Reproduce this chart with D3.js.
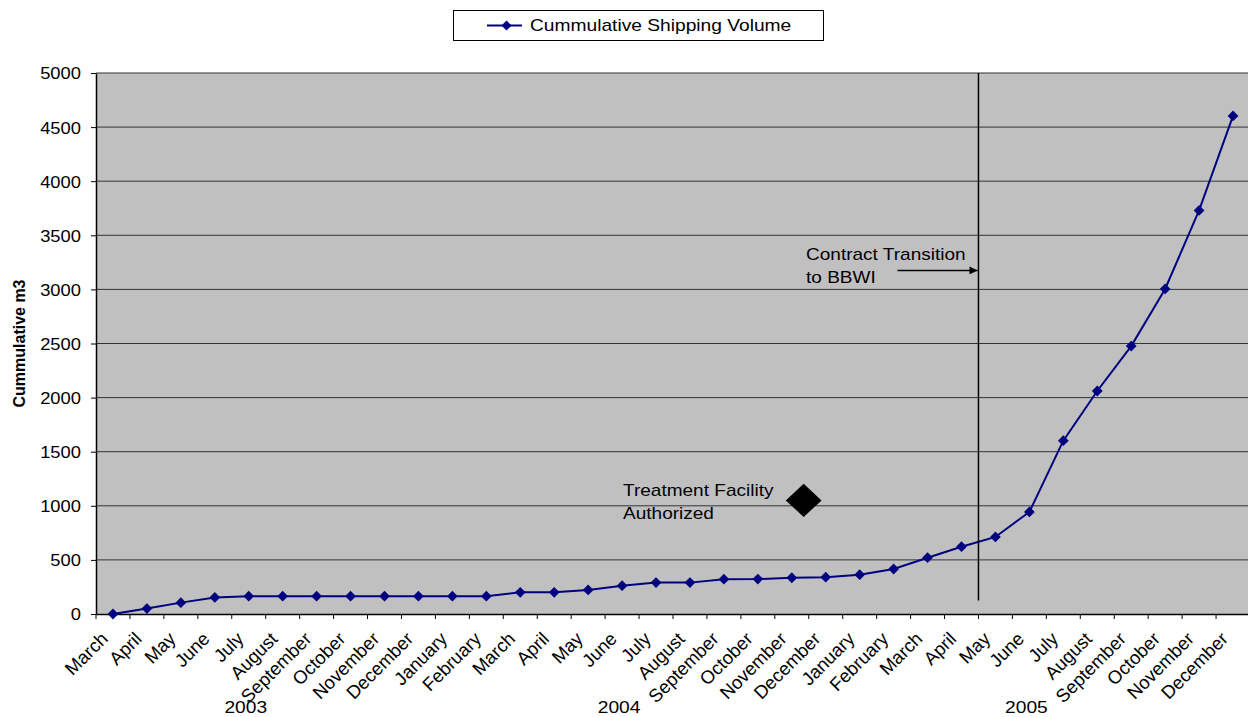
<!DOCTYPE html>
<html>
<head>
<meta charset="utf-8">
<script src="https://cdn.jsdelivr.net/npm/d3@7"></script>
<style>
    body { margin: 0; background: #fff; }
    svg { display: block; font-family: "Liberation Sans", Arial, sans-serif; }
</style>
</head>
<body>
<div id="chart"></div>
<script>
// months, Mar 2003 .. Dec 2005
const months = [
    'March', 'April', 'May', 'June', 'July', 'August', 'September', 'October', 'November', 'December',
    'January', 'February', 'March', 'April', 'May', 'June', 'July', 'August', 'September', 'October', 'November', 'December',
    'January', 'February', 'March', 'April', 'May', 'June', 'July', 'August', 'September', 'October', 'November', 'December',
];
const years = ['2003', '2004', '2005'];
const yearSpans = [[0, 9], [10, 21], [22, 33]];

const volume = [
    0, 50, 105, 153, 165, 165, 165, 165, 165, 165,
    165, 165, 200, 200, 222, 262, 290, 290, 322, 323, 335, 340,
    363, 416, 520, 622, 712, 943, 1602, 2061, 2476, 3004, 3730, 4603,
];

const yTicks = [0, 500, 1000, 1500, 2000, 2500, 3000, 3500, 4000, 4500, 5000];
const seriesName = 'Cummulative Shipping Volume';
const yTitle = 'Cummulative m3';

// annotations: category index (fractional) and value
const transition = { index: 25.5, value: 3175, lineFrom: 125, label: ['Contract Transition', 'to BBWI'] };
const treatment = { index: 20.35, value: 1050, label: ['Treatment Facility', 'Authorized'] };

(function () {
    const [W, H] = [1248, 717];
    const [left, right, top, bottom] = [96, 1250, 73, 614];

    // the original picture is a bit wider than its fonts
    function stretch(sel, x, y, sx) {
        sel.attr('x', 0)
           .attr('y', 0)
           .attr('transform', `translate(${x}, ${y}) scale(${sx}, 1)`);
    }

    let svg = d3.select('#chart')
                .append('svg')
                .attr('width', W)
                .attr('height', H);

    let idx = months.map((m, i) => i);
    let x = d3.scaleBand()
              .domain(idx)
              .range([left, right]);
    let bw = x.bandwidth();
    let cx = i => left + (i + 0.5) * bw;

    let y = d3.scaleLinear()
              .domain([0, 5000])
              .range([bottom, top]);

    svg.append('rect')
       .attr('x', left)
       .attr('y', top)
       .attr('width', right - left)
       .attr('height', bottom - top)
       .attr('fill', '#c0c0c0');

    svg.append('g')
       .selectAll('line')
       .data(yTicks.filter(d => d > 0))
       .enter()
       .append('line')
       .attr('x1', left)
       .attr('x2', right)
       .attr('y1', d => y(d))
       .attr('y2', d => y(d))
       .attr('stroke', '#333')
       .attr('stroke-width', 1);

    // y axis
    let yAxis = svg.append('g')
                   .attr('transform', `translate(${left}, 0)`)
                   .call(d3.axisLeft(y).tickValues(yTicks).tickFormat(d3.format('d')).tickSize(5).tickSizeOuter(0));
    yAxis.select('.domain').attr('stroke', '#000').attr('stroke-width', 1.5);
    yAxis.selectAll('.tick line').attr('stroke', '#000');
    yAxis.selectAll('text')
         .attr('font-size', '17px')
         .attr('fill', '#000')
         .attr('font-family', '"Liberation Sans", Arial, sans-serif')
         .attr('dy', '0.35em')
         .each(function () { stretch(d3.select(this), -15, 0, 1.08); });

    // x axis, ticks between categories
    let xAxis = svg.append('g')
                   .attr('transform', `translate(0, ${bottom})`)
                   .call(d3.axisBottom(x).tickSize(5).tickSizeOuter(0).tickFormat(i => months[i]));
    xAxis.select('.domain').attr('stroke', '#000').attr('stroke-width', 1.5);
    xAxis.selectAll('.tick line')
         .attr('stroke', '#000')
         .attr('x1', -bw / 2)
         .attr('x2', -bw / 2);
    xAxis.selectAll('text')
         .attr('font-size', '18.5px')
         .attr('fill', '#000')
         .attr('font-family', '"Liberation Sans", Arial, sans-serif')
         .attr('text-anchor', 'end')
         .attr('y', 0)
         .attr('dy', 0)
         .attr('transform', 'translate(-4, 26) rotate(-45)');

    svg.selectAll('.year')
       .data(years)
       .enter()
       .append('text')
       .attr('text-anchor', 'middle')
       .attr('font-size', '16px')
       .text(d => d)
       .each(function (d, i) {
           stretch(d3.select(this), (x(yearSpans[i][0]) + x(yearSpans[i][1])) / 2 - 3, 713, 1.2);
       });

    svg.append('text')
       .attr('transform', `translate(25, ${(top + bottom) / 2}) rotate(-90)`)
       .attr('text-anchor', 'middle')
       .attr('font-size', '16px')
       .attr('font-weight', 'bold')
       .text(yTitle);

    // series
    let line = d3.line()
                 .x((d, i) => cx(i))
                 .y(d => y(d));
    svg.append('path')
       .datum(volume)
       .attr('d', line)
       .attr('fill', 'none')
       .attr('stroke', '#000080')
       .attr('stroke-width', 2);

    let diamond = d3.symbol().type(d3.symbolDiamond2);
    svg.selectAll('.pt')
       .data(volume)
       .enter()
       .append('path')
       .attr('transform', (d, i) => `translate(${cx(i)}, ${y(d)})`)
       .attr('d', diamond.size(74)())
       .attr('fill', '#000080');

    // transition marker
    let tx = left + transition.index * bw + bw / 2;
    svg.append('line')
       .attr('x1', tx).attr('x2', tx)
       .attr('y1', y(5000)).attr('y2', y(transition.lineFrom))
       .attr('stroke', '#000')
       .attr('stroke-width', 1.5);
    svg.append('defs')
       .append('marker')
       .attr('id', 'arrow')
       .attr('viewBox', '0 0 10 10')
       .attr('refX', 10).attr('refY', 5)
       .attr('markerWidth', 10).attr('markerHeight', 8)
       .attr('markerUnits', 'userSpaceOnUse')
       .attr('orient', 'auto')
       .append('path')
       .attr('d', 'M0,0L10,5L0,10Z')
       .attr('fill', '#000');
    svg.append('line')
       .attr('x1', tx - 81).attr('x2', tx - 1)
       .attr('y1', y(transition.value)).attr('y2', y(transition.value))
       .attr('stroke', '#000')
       .attr('stroke-width', 1.5)
       .attr('marker-end', 'url(#arrow)');
    svg.selectAll('.tlabel')
       .data(transition.label)
       .enter()
       .append('text')
       .attr('font-size', '17px')
       .text(d => d)
       .each(function (d, i) { stretch(d3.select(this), 806, 260 + i * 22.5, 1.12); });

    // treatment facility marker
    let fx = left + treatment.index * bw + bw / 2;
    svg.append('path')
       .attr('transform', `translate(${fx}, ${y(treatment.value)}) scale(1.08, 1)`)
       .attr('d', d3.symbol().type(d3.symbolDiamond2).size(700)())
       .attr('fill', '#000');
    svg.selectAll('.flabel')
       .data(treatment.label)
       .enter()
       .append('text')
       .attr('font-size', '17px')
       .text(d => d)
       .each(function (d, i) { stretch(d3.select(this), 623, 496 + i * 22.5, 1.12); });

    // legend
    let lg = svg.append('g');
    lg.append('rect')
      .attr('x', 453.5).attr('y', 10.5)
      .attr('width', 370).attr('height', 30)
      .attr('fill', '#fff')
      .attr('stroke', '#000');
    lg.append('line')
      .attr('x1', 487).attr('x2', 522)
      .attr('y1', 25.5).attr('y2', 25.5)
      .attr('stroke', '#000080')
      .attr('stroke-width', 2);
    lg.append('path')
      .attr('transform', 'translate(506.5, 25.5)')
      .attr('d', diamond.size(64)())
      .attr('fill', '#000080');
    lg.append('text')
      .attr('font-size', '16px')
      .text(seriesName)
      .call(stretch, 530, 31, 1.2);
})();
</script>
</body>
</html>
